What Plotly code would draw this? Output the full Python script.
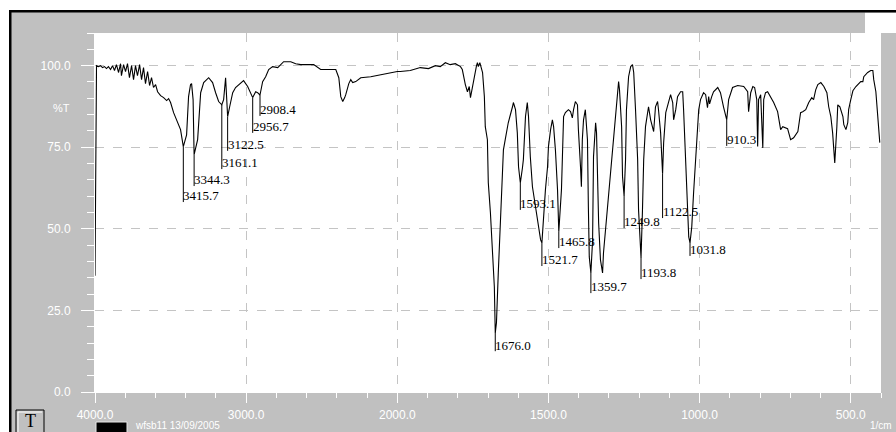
import numpy as np
import plotly.graph_objects as go

# ---- IR spectrum (wavenumber in 1/cm, transmittance in %T) ----
wavenumber = [
    4000, 3997, 3990, 3977, 3964, 3950, 3937, 3924, 3911, 3897, 3884, 3871, 3858, 3844,
    3831, 3825, 3811, 3798, 3785, 3772, 3758, 3745, 3732, 3719, 3705, 3692, 3679, 3666,
    3652, 3639, 3626, 3613, 3599, 3586, 3566, 3546, 3526, 3513, 3500, 3480, 3454, 3434,
    3415.7, 3394, 3381, 3368, 3361, 3351, 3344.3, 3321, 3301, 3281, 3248, 3222, 3202, 3182,
    3161.1, 3149, 3136, 3122.5, 3109, 3089, 3070, 3050, 3017, 2990, 2970, 2956.7, 2937, 2924,
    2908.4, 2891, 2871, 2851, 2825, 2791, 2752, 2705, 2672, 2639, 2553, 2520, 2507, 2407,
    2387, 2374, 2361, 2348, 2341, 2321, 2308, 2295, 2275, 2242, 2176, 2109, 2043, 2000,
    1990, 1957, 1924, 1897, 1874, 1858, 1841, 1825, 1808, 1791, 1785, 1781, 1775, 1768,
    1762, 1758, 1752, 1745, 1738, 1735, 1732, 1727, 1722, 1718, 1712, 1709, 1702, 1699,
    1692, 1685, 1679, 1676.0, 1672, 1666, 1656, 1649, 1643, 1633, 1619, 1616, 1609, 1603,
    1599, 1593.1, 1586, 1583, 1576, 1570, 1566, 1560, 1553, 1543, 1536, 1533, 1526, 1521.7,
    1517, 1510, 1503, 1500, 1493, 1487, 1483, 1477, 1470, 1465.8, 1457, 1454, 1450, 1444,
    1434, 1427, 1421, 1417, 1411, 1404, 1401, 1394, 1391, 1388, 1384, 1378, 1371, 1368,
    1365, 1359.7, 1354, 1351, 1344, 1341, 1334, 1328, 1321, 1318, 1305, 1295, 1285, 1272,
    1268, 1265, 1258, 1255, 1249.8, 1245, 1242, 1235, 1228, 1222, 1218, 1212, 1205, 1202,
    1198, 1193.8, 1189, 1185, 1179, 1169, 1162, 1156, 1152, 1146, 1139, 1136, 1129, 1122.5,
    1119, 1112, 1102, 1096, 1089, 1086, 1079, 1073, 1063, 1056, 1053, 1046, 1040, 1036,
    1031.8, 1026, 1020, 1013, 1007, 1003, 997, 987, 980, 974, 970, 967, 960, 954,
    940, 931, 921, 910.3, 904, 891, 874, 854, 841, 838, 831, 824, 818, 811,
    808, 805, 798, 791, 788, 782, 775, 765, 755, 742, 732, 725, 709, 699,
    689, 675, 666, 659, 649, 639, 629, 623, 616, 609, 599, 589, 579, 573,
    566, 560, 556, 553, 546, 543, 536, 526, 523, 516, 510, 507, 500, 493,
    483, 474, 467, 460, 457, 444, 434, 427, 424, 417, 411, 404,
]
transmittance = [
    35.6, 67.5, 100.0, 99.7, 100.0, 99.4, 99.7, 99.1, 99.7, 98.8, 100.0, 98.5, 100.3, 97.9,
    100.6, 96.9, 100.3, 98.2, 100.6, 96.3, 100.0, 95.7, 100.0, 96.9, 100.3, 95.7, 99.4, 94.5,
    98.2, 93.9, 96.3, 93.3, 94.2, 92.0, 90.8, 90.2, 89.3, 89.9, 88.7, 85.6, 82.8, 80.4,
    75.2, 78.8, 90.5, 94.2, 94.5, 89.6, 72.7, 77.3, 91.7, 94.8, 96.3, 94.8, 91.7, 89.0,
    88.0, 89.6, 96.3, 84.4, 87.4, 91.7, 93.3, 94.2, 95.4, 93.6, 91.7, 90.2, 92.0, 91.7,
    91.0, 95.1, 96.6, 98.8, 99.7, 99.4, 101.2, 101.2, 100.6, 100.3, 100.3, 99.4, 98.8, 98.8,
    96.3, 90.5, 89.0, 90.2, 91.1, 94.5, 95.7, 94.8, 95.1, 96.3, 96.6, 97.2, 97.9, 98.2,
    98.2, 98.5, 99.4, 99.1, 100.0, 99.7, 100.9, 100.3, 100.6, 99.7, 98.8, 96.6, 94.2, 92.0,
    93.6, 90.2, 93.3, 97.2, 100.0, 100.9, 99.7, 100.9, 99.4, 97.9, 90.5, 81.3, 77.3, 64.1,
    54.9, 44.5, 32.2, 18.1, 21.2, 36.5, 56.7, 74.2, 77.3, 82.5, 87.4, 88.7, 86.5, 79.4,
    69.0, 64.1, 68.7, 71.2, 84.4, 88.7, 84.4, 72.1, 62.9, 56.7, 52.8, 49.7, 46.6, 45.7,
    52.8, 62.0, 69.0, 75.2, 80.4, 83.4, 81.3, 74.2, 62.0, 49.1, 62.0, 75.2, 84.4, 85.6,
    86.5, 85.9, 84.0, 86.5, 89.0, 88.0, 80.4, 69.0, 62.9, 77.3, 83.4, 86.5, 77.3, 56.7,
    41.4, 36.5, 46.6, 72.1, 82.5, 79.4, 51.8, 40.5, 36.5, 42.6, 56.7, 67.2, 77.3, 93.3,
    95.1, 92.6, 81.3, 66.0, 60.1, 71.2, 86.5, 96.6, 99.7, 100.3, 97.9, 86.5, 71.2, 55.8,
    48.2, 41.1, 55.8, 71.2, 81.3, 87.4, 83.4, 81.3, 79.8, 87.4, 89.0, 86.5, 79.4, 66.9,
    76.4, 85.6, 89.6, 91.1, 88.7, 83.4, 86.5, 90.5, 92.0, 92.0, 86.5, 71.2, 55.8, 47.5,
    45.7, 50.6, 61.0, 71.2, 81.3, 86.5, 89.6, 91.7, 91.1, 87.1, 90.5, 88.3, 90.5, 92.0,
    93.3, 91.7, 87.4, 83.4, 89.6, 93.3, 93.9, 93.6, 92.0, 85.9, 91.7, 93.6, 93.3, 89.6,
    75.2, 89.6, 91.1, 74.8, 89.6, 91.7, 92.0, 90.5, 88.7, 85.9, 80.4, 81.3, 80.7, 77.3,
    77.9, 79.8, 85.6, 85.9, 86.5, 88.7, 90.2, 89.6, 92.6, 94.2, 94.8, 93.6, 91.7, 87.4,
    84.4, 79.4, 75.2, 70.2, 81.3, 88.0, 87.4, 84.4, 81.9, 80.4, 82.5, 86.5, 89.6, 92.3,
    93.6, 94.5, 95.1, 95.1, 96.6, 97.9, 98.5, 98.5, 95.7, 92.0, 85.0, 76.4,
]

# ---- picked peaks: position, depth, and level of the printed label ----
peak_wn = [3415.7, 3344.3, 3161.1, 3122.5, 2956.7, 2908.4, 1676.0, 1593.1,
           1521.7, 1465.8, 1359.7, 1249.8, 1193.8, 1122.5, 1031.8, 910.3]
peak_T = [75.2, 72.7, 88.0, 84.4, 90.2, 91.0, 18.1, 64.1,
          45.7, 49.1, 36.5, 60.1, 41.1, 66.9, 45.7, 83.4]
label_T = [60.1, 65.0, 70.2, 75.8, 81.3, 86.5, 14.4, 57.7,
           40.5, 46.0, 32.2, 52.1, 36.5, 55.2, 43.6, 77.3]

# ---- axis ticks ----
x_tick_wn = [4000, 3000, 2000, 1500, 1000, 500]
x_tick_text = ["4000.0", "3000.0", "2000.0", "1500.0", "1000.0", "500.0"]
y_tick_vals = [0, 25, 50, 75, 100]
y_tick_text = ["0.0", "25.0", "50.0", "75.0", "100.0"]


def to_axis(w):
    """Split wavenumber scale: 4000-2000 compressed, below 2000 expanded 2x."""
    w = np.asarray(w, dtype=float)
    return np.where(w >= 2000, (4000 - w) / 1000.0, 2 + (2000 - w) / 500.0)


X_MIN, X_MAX = 4000, 400
GRAY = "#c0c0c0"

# plot-area geometry in pixels (for placing frame decorations)
L, R, T_, B = 95, 881, 33, 392


def px(x):
    return (x - L) / (R - L)


def py(y):
    return (B - y) / (B - T_)


fig = go.Figure()

fig.add_trace(go.Scatter(
    x=to_axis(wavenumber), y=transmittance, mode="lines",
    line=dict(color="black", width=1.1), hoverinfo="skip", showlegend=False,
))

# leader lines from each peak down to its label
lx, ly = [], []
for w, tp, tl in zip(peak_wn, peak_T, label_T):
    u = float(to_axis(w))
    lx += [u, u, None]
    ly += [tp, tl - 1.9, None]
fig.add_trace(go.Scatter(
    x=lx, y=ly, mode="lines", line=dict(color="black", width=1),
    hoverinfo="skip", showlegend=False,
))

annotations = []
for w, tl in zip(peak_wn, label_T):
    annotations.append(dict(
        x=float(to_axis(w)), y=tl, xref="x", yref="y", text=f"{w:.1f}",
        showarrow=False, xanchor="left", yanchor="middle", xshift=-2,
        font=dict(family="Liberation Serif", size=13, color="black"),
    ))

annotations.append(dict(
    x=px(72), y=py(108), xref="paper", yref="paper", text="%T", showarrow=False,
    xanchor="right", yanchor="middle",
    font=dict(family="Liberation Sans", size=11, color="white"),
))
annotations.append(dict(
    x=px(30), y=py(421), xref="paper", yref="paper", text="T", showarrow=False,
    xanchor="center", yanchor="middle",
    font=dict(family="Liberation Serif", size=18, color="black"),
))
annotations.append(dict(
    x=px(133), y=py(425), xref="paper", yref="paper", text="wfsb11 13/09/2005",
    showarrow=False, xanchor="left", yanchor="middle",
    font=dict(family="Liberation Sans", size=10, color="white"),
))
annotations.append(dict(
    x=px(894), y=py(426), xref="paper", yref="paper", text="1/cm",
    showarrow=False, xanchor="right", yanchor="middle",
    font=dict(family="Liberation Sans", size=10, color="white"),
))


def prect(x0, y0, x1, y1, fill, line=None, lw=0):
    return dict(type="rect", xref="paper", yref="paper",
                x0=px(x0), x1=px(x1), y0=py(y1), y1=py(y0),
                fillcolor=fill, line=dict(color=line or fill, width=lw),
                layer="above")


shapes = [
    prect(0, 0, 9, 432, "white"),
    prect(0, 0, 896, 10, "white"),
    prect(865, 12.5, 896, 33, "white"),
    prect(9, 10, 11.5, 432, "black"),
    prect(9, 10, 896, 12.5, "black"),
    # "T" button
    prect(16, 410, 44, 433, GRAY, "black", 1),
    dict(type="line", xref="paper", yref="paper", x0=px(18), x1=px(42),
         y0=py(412), y1=py(412), line=dict(color="white", width=1), layer="above"),
    dict(type="line", xref="paper", yref="paper", x0=px(18), x1=px(18),
         y0=py(412), y1=py(432), line=dict(color="white", width=1), layer="above"),
    # colour swatch
    prect(96, 422, 127, 433, "black", "#e8e8e8", 1),
]

fig.update_layout(
    width=896, height=432,
    margin=dict(l=L, r=896 - R, t=T_, b=432 - B, pad=0),
    paper_bgcolor=GRAY, plot_bgcolor="white",
    showlegend=False,
    annotations=annotations, shapes=shapes,
    xaxis=dict(
        range=[float(to_axis(X_MIN)), float(to_axis(X_MAX))],
        tickmode="array", tickvals=to_axis(x_tick_wn).tolist(), ticktext=x_tick_text,
        ticks="outside", ticklen=10, tickcolor="white", tickwidth=1,
        tickfont=dict(family="Liberation Sans", size=12, color="white"),
        showline=True, linecolor="white", linewidth=1,
        showgrid=True, gridcolor="#c4c4c4", griddash="dash", gridwidth=1,
        zeroline=False, automargin=False, ticklabelstandoff=2,
        minor=dict(tickmode="linear", tick0=0, dtick=0.2, ticks="outside",
                   ticklen=5, tickcolor="white", showgrid=False),
    ),
    yaxis=dict(
        range=[0, 110],
        tickmode="array", tickvals=y_tick_vals, ticktext=y_tick_text,
        ticks="outside", ticklen=13, tickcolor="white", tickwidth=1,
        tickfont=dict(family="Liberation Sans", size=12, color="white"),
        showline=True, linecolor="white", linewidth=1,
        showgrid=True, gridcolor="#c4c4c4", griddash="dash", gridwidth=1,
        zeroline=False, automargin=False, ticklabelstandoff=8,
        minor=dict(tickmode="linear", tick0=0, dtick=5, ticks="outside",
                   ticklen=7, tickcolor="white", showgrid=False),
    ),
)

fig.write_html("out.html")
